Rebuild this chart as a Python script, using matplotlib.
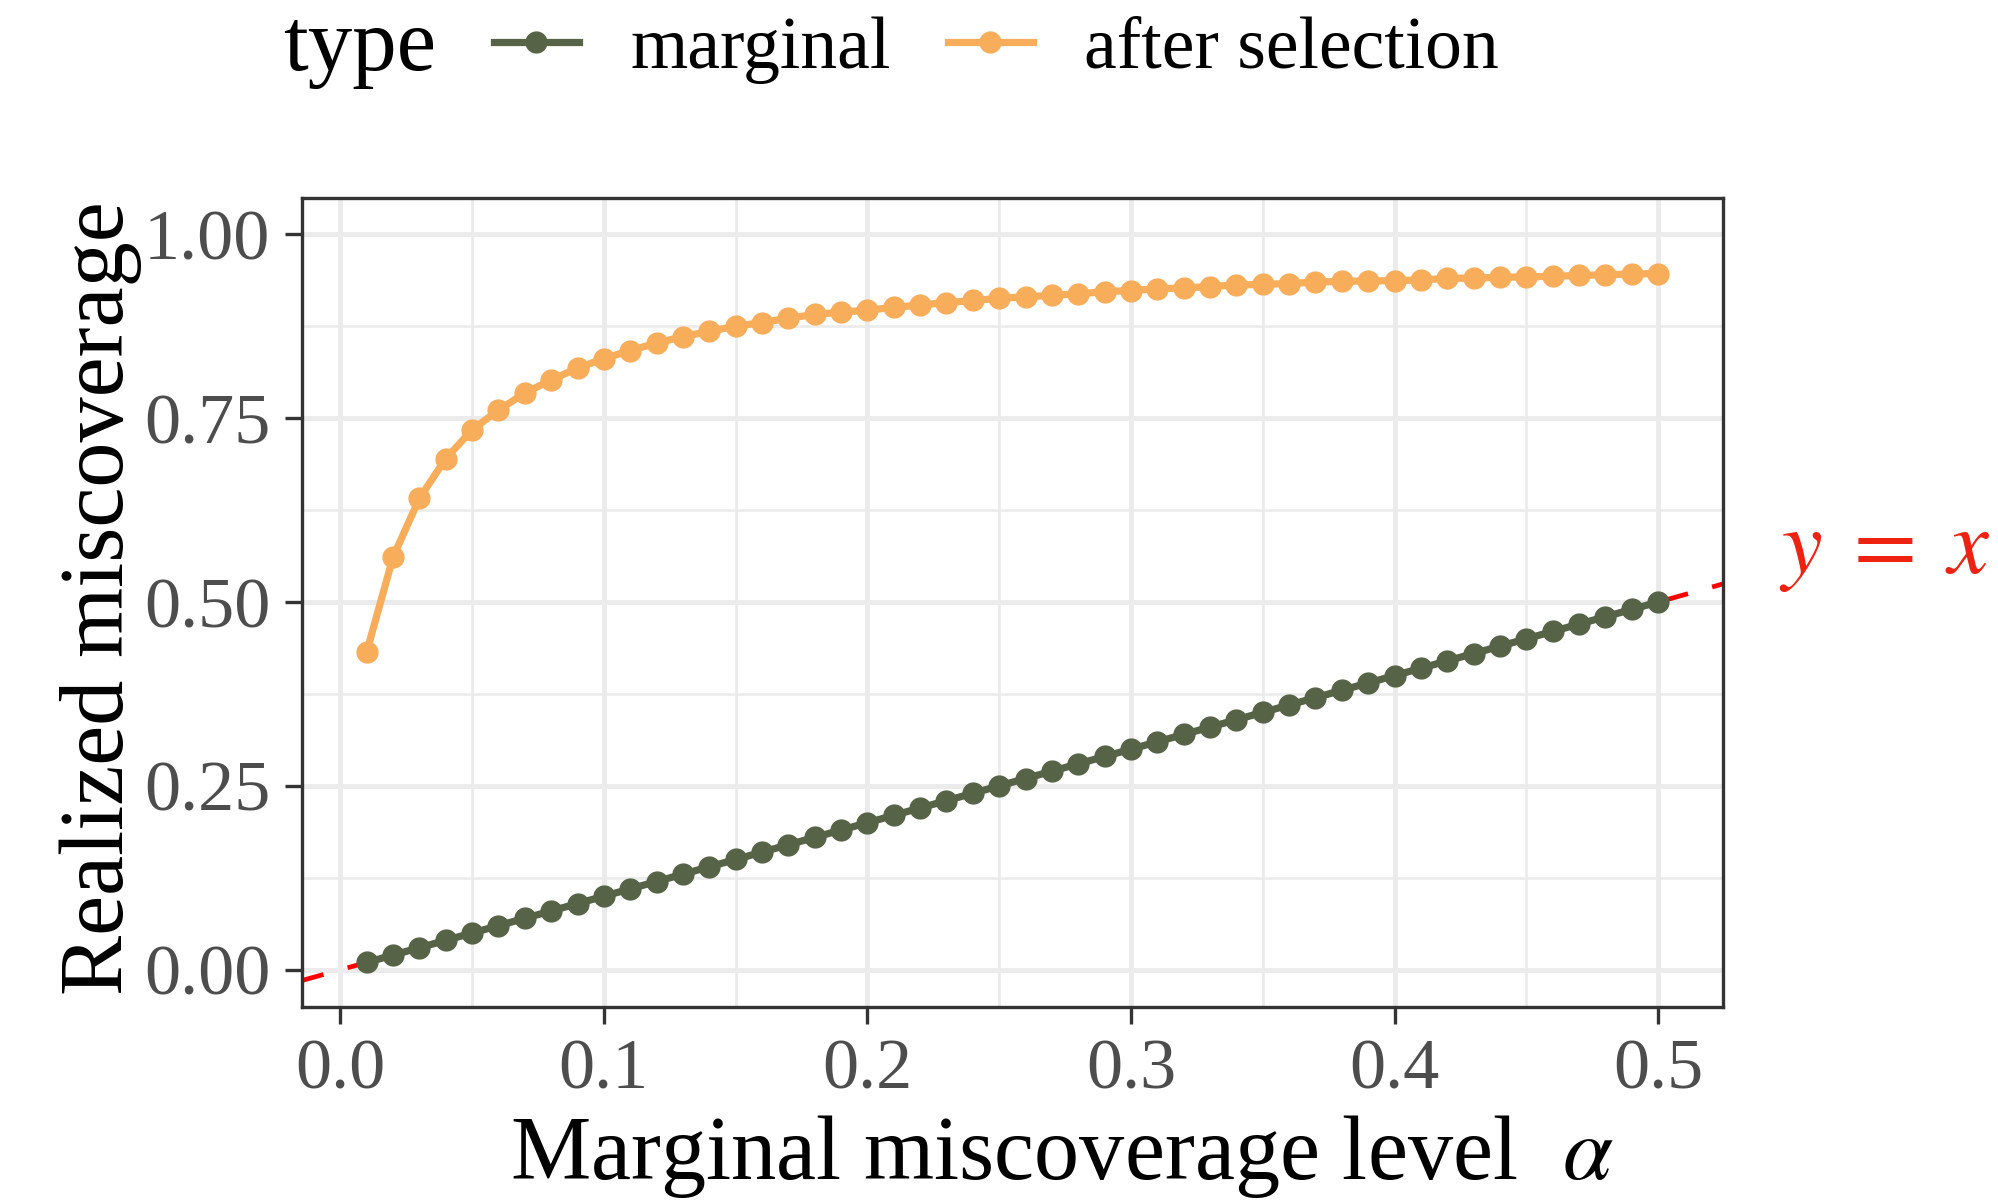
import matplotlib
matplotlib.use("Agg")
import matplotlib.pyplot as plt
from matplotlib.ticker import MultipleLocator, FormatStrFormatter

plt.rcParams["font.family"] = ["Liberation Serif", "DejaVu Serif"]
plt.rcParams["mathtext.fontset"] = "stix"

# Miscoverage levels and realized miscoverage for each type
alpha = [0.01, 0.02, 0.03, 0.04, 0.05, 0.06, 0.07, 0.08, 0.09, 0.10,
         0.11, 0.12, 0.13, 0.14, 0.15, 0.16, 0.17, 0.18, 0.19, 0.20,
         0.21, 0.22, 0.23, 0.24, 0.25, 0.26, 0.27, 0.28, 0.29, 0.30,
         0.31, 0.32, 0.33, 0.34, 0.35, 0.36, 0.37, 0.38, 0.39, 0.40,
         0.41, 0.42, 0.43, 0.44, 0.45, 0.46, 0.47, 0.48, 0.49, 0.50]
marginal = [0.01, 0.02, 0.03, 0.04, 0.05, 0.06, 0.07, 0.08, 0.09, 0.10,
            0.11, 0.12, 0.13, 0.14, 0.15, 0.16, 0.17, 0.18, 0.19, 0.20,
            0.21, 0.22, 0.23, 0.24, 0.25, 0.26, 0.27, 0.28, 0.29, 0.30,
            0.31, 0.32, 0.33, 0.34, 0.35, 0.36, 0.37, 0.38, 0.39, 0.40,
            0.41, 0.42, 0.43, 0.44, 0.45, 0.46, 0.47, 0.48, 0.49, 0.50]
after_selection = [0.432, 0.561, 0.641, 0.695, 0.734, 0.761, 0.784, 0.802, 0.818, 0.831,
                   0.842, 0.852, 0.861, 0.868, 0.875, 0.880, 0.886, 0.891, 0.894, 0.897,
                   0.9005, 0.904, 0.907, 0.910, 0.913, 0.915, 0.917, 0.919, 0.922, 0.9235,
                   0.926, 0.927, 0.929, 0.931, 0.932, 0.933, 0.935, 0.936, 0.9365, 0.937,
                   0.938, 0.940, 0.9405, 0.9415, 0.942, 0.943, 0.944, 0.945, 0.946, 0.9465]

type_labels = ["marginal", "after selection"]
type_colors = ["#566346", "#F8AD5A"]

fig = plt.figure(figsize=(19.98, 12), dpi=100)
ax = fig.add_axes([0.1512, 0.1612, 0.711, 0.6742])

# reference line y = x
ax.axline((0, 0), slope=1, color="red", lw=3.4, linestyle=(0, (4.7, 5.3)),
          zorder=1.5)

lines = []
for yvals, lab, col in zip([marginal, after_selection], type_labels, type_colors):
    ln, = ax.plot(alpha, yvals, color=col, lw=5.2, marker="o", markersize=15,
                  label=lab, zorder=3)
    lines.append(ln)

ax.set_xlim(-0.0145, 0.5245)
ax.set_ylim(-0.05, 1.05)
ax.xaxis.set_major_locator(MultipleLocator(0.1))
ax.xaxis.set_minor_locator(MultipleLocator(0.05))
ax.yaxis.set_major_locator(MultipleLocator(0.25))
ax.yaxis.set_minor_locator(MultipleLocator(0.125))
ax.xaxis.set_major_formatter(FormatStrFormatter("%.1f"))
ax.yaxis.set_major_formatter(FormatStrFormatter("%.2f"))

ax.set_axisbelow(True)
ax.grid(which="major", color="#EBEBEB", lw=3.6)
ax.grid(which="minor", color="#EBEBEB", lw=1.9)
for sp in ax.spines.values():
    sp.set_color("#333333")
    sp.set_linewidth(2.4)
ax.tick_params(which="minor", length=0)
ax.tick_params(which="major", length=12, width=2.4, color="#333333",
               labelcolor="#4D4D4D", labelsize=52, pad=11)

ax.text(0.546, 0.54, r"$y\;=\;x$", color="#EE2211", fontsize=66,
        ha="left", va="baseline", clip_on=False)

fig.text(123 / 1998, 602 / 1200, "Realized miscoverage", fontsize=65,
         rotation=90, rotation_mode="anchor", ha="center", va="baseline")
fig.text(510 / 1998, 1 - 1179 / 1200, r"Marginal miscoverage level  $\alpha$",
         fontsize=65, ha="left", va="baseline")

fig.text(283 / 1998, 1 - 70 / 1200, "type", fontsize=64, va="baseline")
fig.legend(handles=lines, labels=type_labels, loc="center left",
           bbox_to_anchor=(494 / 1998, 1 - 50 / 1200), frameon=False,
           fontsize=53, ncol=2, handlelength=1.15, handletextpad=0.7,
           columnspacing=0.78, borderpad=0, borderaxespad=0)

fig.savefig("out.png", dpi=100)
